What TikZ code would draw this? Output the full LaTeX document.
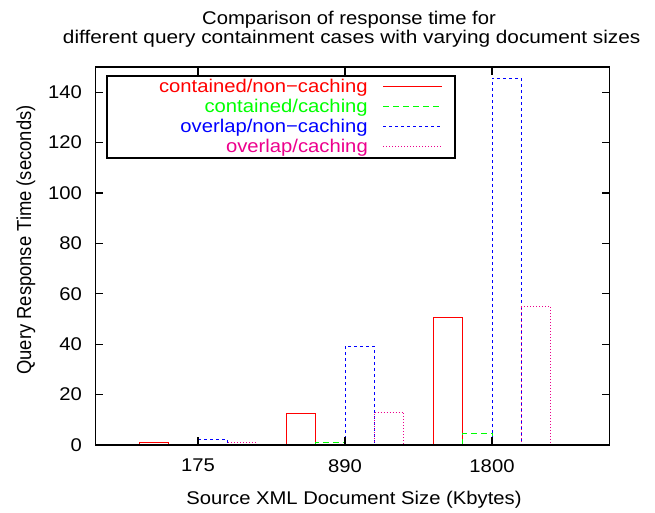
\documentclass[tikz,border=0pt]{standalone}
\usepackage{fontspec}
\setmainfont{Liberation Sans}
\usepackage{tikz}
\usetikzlibrary{positioning, calc}

\begin{document}
\begin{tikzpicture}[x=1pt,y=1pt,
    txt/.style={font=\fontsize{18.4}{22}\selectfont,inner sep=0pt},
    lbl/.style={txt,xscale=1.1},
    frm/.style={line width=1.1pt,black},
    bar_a/.style={red,line width=0.9pt},
    bar_b/.style={green,line width=0.9pt,dash pattern=on 6pt off 4pt},
    bar_c/.style={blue,line width=0.9pt,dash pattern=on 3pt off 3pt},
    bar_d/.style={magenta,line width=0.9pt,dash pattern=on 1pt off 2pt}]
  \useasboundingbox (0,0) rectangle (655,512);

  % titles
  \node[lbl,anchor=base] (title_0) at (349,487) {Comparison of response time for};
  \node[txt,xscale=1.13,anchor=base] (title_1) at (351.7,468.5) {different query containment cases with varying document sizes};
  \node[lbl,anchor=base] (label_x) at (354,8) {Source XML Document Size (Kbytes)};
  \node[txt,anchor=base,rotate=90,yscale=1.1] (label_y) at (31,272) {Query Response Time (seconds)};

  \begin{scope}[shift={(51,67)},x=147pt,y=2.52pt]
    \coordinate (origin) at (0.3,0);
    \coordinate (corner) at (3.8,150);
    %
    \draw[bar_a] (0.6,0) rectangle (0.8,1.2);
    \draw[bar_b] (0.8,0) rectangle (1.0,0.4);
    \draw[bar_c] (1.0,0) rectangle (1.2,2.3);
    \draw[bar_d] (1.2,0) rectangle (1.4,1.0);

    \draw[bar_a] (1.6,0) rectangle (1.8,12.6);
    \draw[bar_b] (1.8,0) rectangle (2.0,1.1);
    \draw[bar_c] (2.0,0) rectangle (2.2,39.2);
    \draw[bar_d] (2.2,0) rectangle (2.4,13.0);

    \draw[bar_a] (2.6,0) rectangle (2.8,50.5);
    \draw[bar_b] (2.8,0) rectangle (3.0,4.6);
    \draw[bar_c] (3.0,0) rectangle (3.2,145.5);
    \draw[bar_d] (3.2,0) rectangle (3.4,54.9);
    %
    \draw[frm] (origin) rectangle (corner);
    \foreach \y in {0,20,...,140} {
      \draw[frm] (0.3,\y) -- ++(8pt,0);
      \draw[frm] (3.8,\y) -- ++(-8pt,0);
      \node[xshift=-13pt,lbl,anchor=east] (tick_y_\y) at (0.3,\y) {\y};
    }
    \foreach \t/\s in {1/175,2/890,3/1800} {
      \draw[frm] (\t,0) -- ++(0,8pt);
      \draw[frm] (\t,150) -- ++(0,-8pt);
      \node[yshift=-20.7pt,lbl] (tick_x_\s) at (\t,0) {\s};
    }
  \end{scope}

  % key
  \draw[frm] (107,354) rectangle (455,436);
  \node[lbl,anchor=base east,red] (key_0) at (368,419.7) {contained/non−caching};
  \node[lbl,anchor=base east,green] (key_1) at (368,399.7) {contained/caching};
  \node[lbl,anchor=base east,blue] (key_2) at (368,379.7) {overlap/non−caching};
  \node[lbl,anchor=base east,magenta] (key_3) at (368,359.7) {overlap/caching};
  \draw[bar_a] (383,425.3) -- (442,425.3);
  \draw[bar_b] (383,405.3) -- (442,405.3);
  \draw[bar_c] (383,385.3) -- (442,385.3);
  \draw[bar_d] (383,365.3) -- (442,365.3);
\end{tikzpicture}
\end{document}
